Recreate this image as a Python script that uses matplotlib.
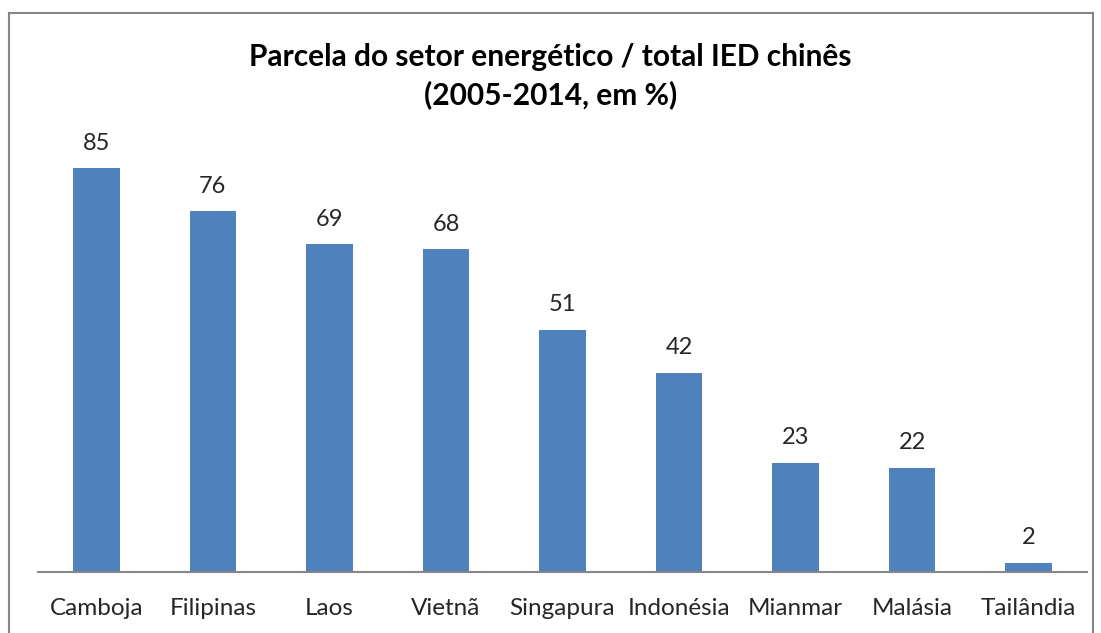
import matplotlib.pyplot as plt
from matplotlib.lines import Line2D

paises = ['Camboja', 'Filipinas', 'Laos', 'Vietnã', 'Singapura', 'Indonésia',
          'Mianmar', 'Malásia', 'Tailândia']
parcela = [85, 76, 69, 68, 51, 42, 23, 22, 2]

plt.rcParams['font.family'] = ['Lato', 'DejaVu Sans']

W, H = 1101, 633
fig = plt.figure(figsize=(W / 100, H / 100), dpi=100)

# plot area in pixel coordinates
left, right, bottom, top = 38, 1087, 572, 130
ax = fig.add_axes([left / W, 1 - bottom / H, (right - left) / W, (bottom - top) / H])

x = range(len(paises))
bars = ax.bar(x, parcela, width=0.4, color='#4F81BD')
for xi, v in zip(x, parcela):
    ax.text(xi, v + 3.0, str(v), ha='center', va='bottom', fontsize=17, color='#262626')

ax.set_xlim(-0.5, len(paises) - 0.5)
ax.set_ylim(0, (bottom - top) / 4.75)
ax.set_xticks(list(x))
ax.set_xticklabels(paises, fontsize=17.5, color='#262626')
ax.tick_params(axis='x', length=0, pad=19)
ax.set_yticks([])
for s in ['top', 'right', 'left']:
    ax.spines[s].set_visible(False)
ax.spines['bottom'].set_color('#868686')
ax.spines['bottom'].set_linewidth(1.5)

fig.text(0.5, 1 - 57 / H, 'Parcela do setor energético / total IED chinês',
         ha='center', va='center', fontsize=21.5, fontweight='bold')
fig.text(0.5, 1 - 95 / H, '(2005-2014, em %)',
         ha='center', va='center', fontsize=21.5, fontweight='bold')

# chart border
bx0, bx1, by0 = 9 / W, 1093 / W, 1 - 13 / H
for xs, ys in [([bx0, bx0], [0, by0]), ([bx0, bx1], [by0, by0]), ([bx1, bx1], [by0, 0])]:
    fig.add_artist(Line2D(xs, ys, color='#868686', lw=1.5, transform=fig.transFigure))

fig.savefig('out.png', dpi=100)
